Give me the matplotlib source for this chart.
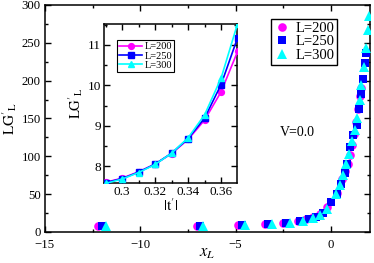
import matplotlib
matplotlib.use("Agg")
import matplotlib.pyplot as plt
from matplotlib.ticker import MultipleLocator

plt.rcParams['font.family'] = ['Liberation Serif', 'DejaVu Serif']
plt.rcParams['mathtext.fontset'] = 'stix'

# main panel: scaling collapse LG'_L vs x_L
x_200 = [-12.2, -7.0, -4.85, -3.45, -2.5, -1.75, -1.3, -0.95, -0.55, -0.2,
         0.3, 0.6, 0.75, 0.88, 1.0, 1.1, 1.2, 1.3, 1.42, 1.52, 1.58]
y_200 = [8.5, 8.5, 9.0, 10.0, 11.5, 14, 16.5, 19.5, 24, 33,
         52, 70, 80, 90, 102, 115, 130, 145, 163, 180, 190]
x_250 = [-12.0, -6.85, -4.65, -3.3, -2.35, -1.6, -1.15, -0.8, -0.4, 0.0,
         0.3, 0.55, 0.72, 0.85, 1.0, 1.15, 1.34, 1.45, 1.6, 1.7, 1.78, 1.85]
y_250 = [8.5, 8.5, 9.0, 10.0, 11.5, 14, 16.5, 19.5, 25, 40,
         50, 63, 78, 90, 112, 128, 142, 162, 182, 202, 223, 236]
x_300 = [-11.8, -6.7, -4.5, -3.1, -2.15, -1.45, -0.95, -0.6, -0.2, 0.25,
         0.47, 0.65, 0.8, 0.95, 1.1, 1.25, 1.38, 1.52, 1.6, 1.74, 1.85, 1.95, 1.98]
y_300 = [8.5, 8.5, 9.0, 10.0, 12, 15, 18, 23, 30, 50,
         62, 75, 90, 103, 120, 135, 150, 174, 194, 218, 243, 267, 285]

# inset: LG'_L vs |t'|
t_in = [0.29, 0.30, 0.31, 0.32, 0.33, 0.34, 0.35, 0.36, 0.37]
g_200 = [7.60, 7.70, 7.86, 8.05, 8.31, 8.66, 9.14, 9.84, 10.84]
g_250 = [7.59, 7.69, 7.85, 8.05, 8.32, 8.68, 9.19, 10.02, 11.18]
g_300 = [7.57, 7.68, 7.84, 8.04, 8.32, 8.70, 9.27, 10.18, 11.53]

fig = plt.figure(figsize=(3.74, 2.63), dpi=100)
ax = fig.add_axes([0.120, 0.118, 0.869, 0.863])

ax.plot(x_200, y_200, 'o', color='#ff00ff', ms=6.2, mew=0, label='L=200', zorder=3)
ax.plot(x_250, y_250, 's', color='#0000ff', ms=5.4, mew=0, label='L=250', zorder=4)
ax.plot(x_300, y_300, '^', color='#00ffff', ms=6.6, mew=0, label='L=300', zorder=5)

ax.set_xlim(-15, 2.04)
ax.set_ylim(0, 300)
ax.xaxis.set_major_locator(MultipleLocator(5))
ax.xaxis.set_minor_locator(MultipleLocator(2.5))
ax.yaxis.set_major_locator(MultipleLocator(50))
ax.yaxis.set_minor_locator(MultipleLocator(25))
ax.tick_params(which='both', direction='in', top=True, right=True, width=1, labelsize=9.2)
ax.tick_params(axis='x', pad=5)
ax.tick_params(axis='y', pad=3)
ax.tick_params(which='major', length=4)
ax.tick_params(which='minor', length=2)
for s in ax.spines.values():
    s.set_linewidth(1.1)
ax.set_xlabel(r"$x_L$", fontsize=12, labelpad=-4)
ax.set_ylabel(r"$\mathrm{LG}'_{\mathrm{L}}$", fontsize=11, labelpad=2)
ax.text(-2.7, 131, "V=0.0", fontsize=10, va='center', ha='left')

leg = ax.legend(loc='upper right', bbox_to_anchor=(0.9, 0.938), fontsize=10.5,
                handletextpad=0.3, handlelength=1.2, borderpad=0.2, labelspacing=0.0,
                fancybox=False, framealpha=1, edgecolor='black', borderaxespad=0)
leg.get_frame().set_linewidth(1.0)

# inset
ins = fig.add_axes([0.278, 0.304, 0.356, 0.605])
ins.plot(t_in, g_200, '-o', color='#ff00ff', ms=4.2, lw=1.2, label='L=200', zorder=3)
ins.plot(t_in, g_250, '-s', color='#0000ff', ms=3.9, lw=1.2, label='L=250', zorder=4)
ins.plot(t_in, g_300, '-^', color='#00ffff', ms=4.4, lw=1.2, label='L=300', zorder=5)
ins.set_xlim(0.289, 0.3697)
ins.set_ylim(7.58, 11.52)
ins.xaxis.set_minor_locator(MultipleLocator(0.01))
ins.yaxis.set_major_locator(MultipleLocator(1))
ins.yaxis.set_minor_locator(MultipleLocator(0.5))
ins.set_xticks([0.30, 0.32, 0.34, 0.36])
ins.set_xticklabels(['0.3', '0.32', '0.34', '0.36'])
ins.tick_params(which='both', direction='in', top=True, right=True, width=1, labelsize=9.5, pad=2)
ins.tick_params(which='major', length=4)
ins.tick_params(which='minor', length=2)
for s in ins.spines.values():
    s.set_linewidth(1.1)
ins.set_xlabel(r"$|\mathrm{t}'|$", fontsize=11, labelpad=0)
ins.set_ylabel(r"$\mathrm{LG}'_{\mathrm{L}}$", fontsize=10.5, labelpad=2)
leg2 = ins.legend(loc='upper left', bbox_to_anchor=(0.1, 0.9), fontsize=7.5,
                  handletextpad=0.2, handlelength=2.2, borderpad=0.2, labelspacing=0.0,
                  fancybox=False, framealpha=1, edgecolor='black', borderaxespad=0)
leg2.get_frame().set_linewidth(0.8)

fig.savefig("out.png", dpi=100)
